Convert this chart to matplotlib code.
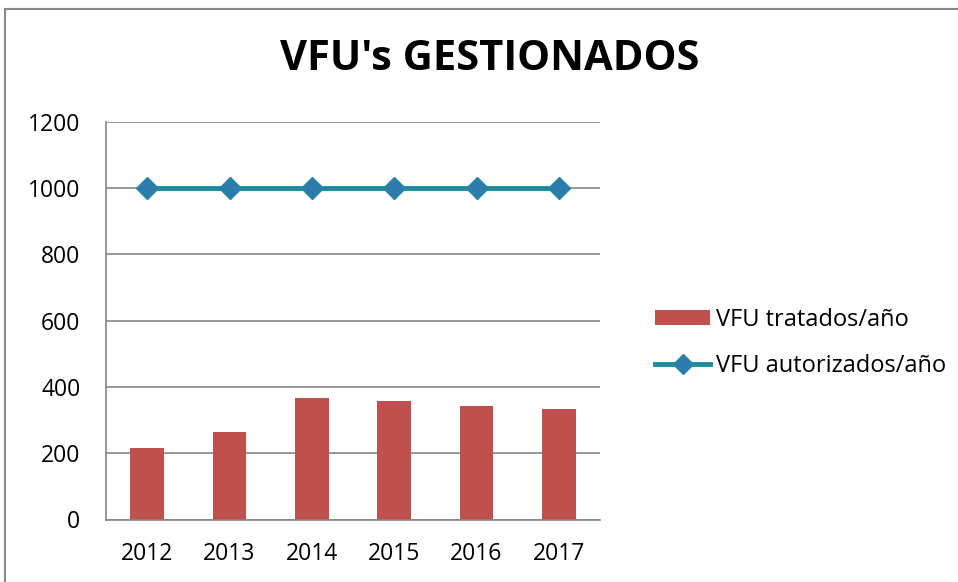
import matplotlib
matplotlib.use("Agg")
import matplotlib.pyplot as plt
from matplotlib.lines import Line2D
from matplotlib.patches import Patch
from matplotlib import font_manager as fm
import numpy as np

years = ["2012", "2013", "2014", "2015", "2016", "2017"]
tratados = [217, 264, 366, 358, 343, 335]
autorizados = [1000, 1000, 1000, 1000, 1000, 1000]
yticks = [0, 200, 400, 600, 800, 1000, 1200]

avail = {f.name for f in fm.fontManager.ttflist}
base = "Open Sans" if "Open Sans" in avail else "DejaVu Sans"
plt.rcParams['font.family'] = [base, 'DejaVu Sans']

W, H = 958, 582
fig = plt.figure(figsize=(W/100, H/100), dpi=100)
ax = fig.add_axes([106/W, (H-519.5)/H, 494/W, 397.5/H])

x = np.arange(len(years))
ax.bar(x, tratados, width=0.41, color="#C0504D", zorder=2, label="VFU tratados/año")
ax.plot(x, autorizados, color="#1F8A9E", lw=3.5, marker="D", ms=11,
        markerfacecolor="#2E7BAE", markeredgecolor="#1F8A9E", markeredgewidth=1,
        zorder=3, label="VFU autorizados/año")

ax.set_xlim(-0.5, len(years) - 0.5)
ax.set_ylim(0, 1200)
ax.set_yticks(yticks)
ax.set_xticks(x)
ax.set_xticklabels(years)
ax.yaxis.grid(True, color="#868686", lw=1.2, zorder=0)
ax.set_axisbelow(True)
for s in ["top", "right"]:
    ax.spines[s].set_visible(False)
for s in ["left", "bottom"]:
    ax.spines[s].set_color("#868686")
    ax.spines[s].set_linewidth(1.2)
ax.tick_params(length=0, labelsize=16.5, colors="#000000")
ax.tick_params(axis="y", pad=18.5)
ax.tick_params(axis="x", pad=16.5)

fig.text(490/W, 1 - 60/H, "VFU's GESTIONADOS", ha="center", va="center",
         fontsize=30, fontweight="bold")

handles = [Patch(facecolor="#C0504D", edgecolor="none"),
           Line2D([], [], color="#1F8A9E", lw=3.5, marker="D", ms=10,
                  markerfacecolor="#2E7BAE", markeredgecolor="#1F8A9E")]
fig.legend(handles, ["VFU tratados/año", "VFU autorizados/año"],
           loc="center left", bbox_to_anchor=(643/W, 1 - 343/H),
           frameon=False, fontsize=17, handlelength=2.35, handleheight=0.6,
           handletextpad=0.25, labelspacing=0.92, borderpad=0)

# outer chart border (cropped at right/bottom)
fig.add_artist(Line2D([5/W, 5/W], [0, 1 - 9/H], transform=fig.transFigure,
                      color="#878787", lw=1.5))
fig.add_artist(Line2D([5/W, 1], [1 - 9/H, 1 - 9/H], transform=fig.transFigure,
                      color="#878787", lw=1.5))

fig.savefig("out.png", dpi=100)
